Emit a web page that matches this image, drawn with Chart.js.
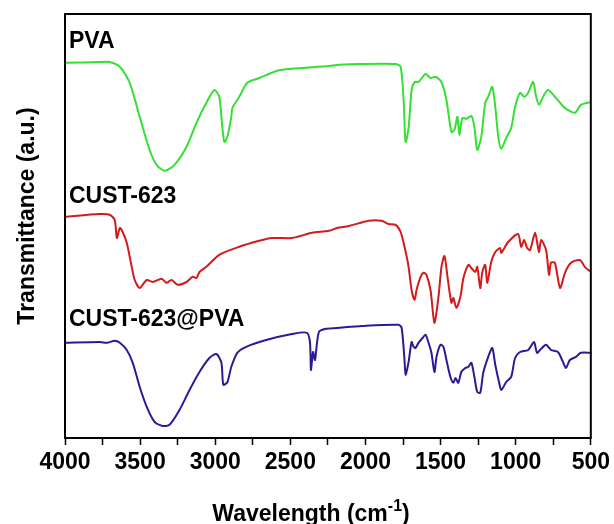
<!DOCTYPE html>
<html>
<head>
<meta charset="utf-8">
<script src="https://cdn.jsdelivr.net/npm/chart.js@4/dist/chart.umd.min.js"></script>
<style>
  html, body { margin: 0; padding: 0; background: #fff; }
  #wrap { width: 614px; height: 524px; }
</style>
</head>
<body>
<div id="wrap"><canvas id="ftir" width="614" height="524"></canvas></div>
<script>
// FTIR spectra, wavenumber (cm-1) vs transmittance (a.u., offset stacked)
const pvaWave = [4000, 3768, 3702, 3635, 3569, 3503, 3437, 3390, 3337, 3271, 3191, 3125, 3059, 3006, 2973, 2953, 2939, 2919, 2893, 2886, 2840, 2787, 2707, 2588, 2489, 2243, 2177, 2025, 1799, 1766, 1746, 1733, 1713, 1693, 1673, 1647, 1600, 1567, 1534, 1494, 1461, 1428, 1408, 1388, 1375, 1355, 1329, 1295, 1275, 1256, 1229, 1203, 1183, 1156, 1136, 1116, 1096, 1063, 1030, 1004, 971, 944, 917, 884, 864, 845, 818, 785, 739, 672, 606, 566, 500];
const pvaT = [93.8, 94, 94, 92.8, 88.8, 80.3, 72, 68.3, 66.8, 68.3, 72.8, 78.8, 83.8, 87, 85.3, 77.8, 74, 75.3, 80.3, 82.5, 85.3, 88.8, 90, 91.8, 92.3, 93, 93.3, 93.5, 93.5, 92.8, 84.5, 74, 77.5, 87, 89, 89, 91, 90, 90.3, 89, 84.5, 76.5, 77, 80.3, 75.8, 80, 79.8, 80.5, 77.8, 72, 75.3, 83.8, 85.3, 87.8, 82.8, 75.3, 72.3, 75, 77.5, 82.8, 86.3, 85.3, 86.3, 89, 85.3, 83.3, 85.3, 87, 85.3, 82.5, 81.3, 83.3, 84];

const custWave = [4000, 3768, 3702, 3669, 3655, 3635, 3616, 3589, 3556, 3536, 3503, 3456, 3417, 3357, 3324, 3291, 3251, 3191, 3151, 3125, 3105, 3059, 2973, 2840, 2707, 2621, 2489, 2356, 2243, 2190, 2111, 1978, 1892, 1846, 1799, 1766, 1740, 1713, 1693, 1673, 1660, 1633, 1614, 1594, 1567, 1541, 1514, 1494, 1474, 1454, 1428, 1415, 1395, 1368, 1348, 1315, 1295, 1269, 1256, 1236, 1222, 1203, 1189, 1163, 1136, 1103, 1096, 1050, 984, 964, 944, 924, 904, 871, 845, 831, 798, 778, 765, 739, 705, 672, 632, 573, 540, 500];
const custT = [55.3, 56, 55.8, 54.5, 50, 52.5, 51.5, 48.8, 42.8, 39.5, 37.5, 39.5, 39, 39.8, 38.8, 39.5, 38.3, 39, 40.3, 40, 41.5, 42.8, 45.8, 47.8, 49.3, 50, 50, 51.3, 51.8, 52.5, 53, 54.3, 54.3, 53.5, 53.3, 51.5, 47.8, 42.8, 37, 34.5, 37, 40.3, 41.3, 40.8, 37, 28.8, 35.3, 42.8, 45.5, 40.3, 33.8, 35, 32.5, 35.3, 40, 43.3, 42.5, 41.5, 42.8, 37.5, 41.5, 43.3, 38.8, 44, 46.5, 47.5, 46.3, 49, 51, 47.8, 49.5, 47.5, 47, 51.3, 46.5, 49.5, 47, 40.8, 43.8, 43.8, 37.5, 41.3, 43.8, 44.5, 42.8, 41.5];

const compWave = [4000, 3768, 3722, 3669, 3635, 3589, 3549, 3503, 3456, 3403, 3350, 3304, 3238, 3171, 3105, 3039, 2992, 2959, 2946, 2919, 2893, 2853, 2794, 2661, 2489, 2389, 2369, 2363, 2349, 2336, 2310, 2263, 2190, 2025, 1779, 1759, 1740, 1733, 1713, 1693, 1680, 1667, 1647, 1620, 1600, 1580, 1561, 1541, 1527, 1501, 1481, 1461, 1435, 1415, 1401, 1382, 1362, 1335, 1315, 1295, 1275, 1256, 1236, 1216, 1183, 1156, 1136, 1110, 1096, 1063, 1030, 1004, 971, 917, 878, 858, 831, 798, 765, 719, 685, 666, 639, 599, 566, 500];
const compT = [23.8, 24, 23.8, 24.3, 23.8, 22, 18.8, 12.8, 7.8, 4, 3, 3.3, 7, 12, 16.5, 20, 21, 18.8, 13.3, 14, 17.8, 21.3, 22.8, 24.5, 26, 26.3, 23.8, 17, 21.5, 19.5, 26.5, 27.3, 27.5, 28, 28.3, 27.5, 19.5, 15.8, 19, 24, 22.8, 22.5, 23.8, 25, 25.8, 23.8, 21.3, 16.5, 20.3, 23.3, 22.8, 19.5, 15.3, 13.8, 15, 13.8, 16.5, 17.5, 17.8, 18.8, 15.3, 11.5, 11.3, 16.3, 20.3, 22.5, 18.3, 13.8, 12, 14, 15.3, 20, 21.5, 22, 24, 21.3, 22.3, 23.3, 22, 21.5, 19, 17.5, 19.5, 20.3, 21.3, 21.3];

const seriesNames = ["PVA", "CUST-623", "CUST-623@PVA"];
const seriesColors = ["#35e035", "#d41a1a", "#2b1a96"];
const xTicks = [4000, 3500, 3000, 2500, 2000, 1500, 1000, 500];

const font = "'Liberation Sans', Arial, sans-serif";

function toPoints(xs, ys) {
  return xs.map((x, i) => ({ x: x, y: ys[i] }));
}

const data = {
  datasets: [
    { label: seriesNames[0], data: toPoints(pvaWave, pvaT), borderColor: seriesColors[0] },
    { label: seriesNames[1], data: toPoints(custWave, custT), borderColor: seriesColors[1] },
    { label: seriesNames[2], data: toPoints(compWave, compT), borderColor: seriesColors[2] },
  ],
};

// frame, series names and axis titles
const decorations = {
  id: "decorations",
  afterDraw(chart) {
    const { ctx, chartArea: a } = chart;
    ctx.save();
    ctx.strokeStyle = "#000";
    ctx.lineWidth = 2;
    ctx.strokeRect(a.left, a.top, a.right - a.left, a.bottom - a.top);

    ctx.fillStyle = "#000";
    ctx.font = "bold 23px " + font;
    ctx.textBaseline = "alphabetic";
    ctx.textAlign = "left";
    const yScale = chart.scales.y;
    // names sit just above each trace's flat start
    const nameY = [pvaT[0] + 3.8, custT[0] + 3.4, compT[0] + 4.2];
    seriesNames.forEach((name, i) => {
      ctx.fillText(name, a.left + 4, yScale.getPixelForValue(nameY[i]));
    });

    // y title
    ctx.save();
    ctx.translate(34, 216);
    ctx.rotate(-Math.PI / 2);
    ctx.textAlign = "center";
    ctx.font = "bold 23px " + font;
    ctx.fillText("Transmittance (a.u.)", 0, 0);
    ctx.restore();

    // x title with superscript
    const main = "Wavelength (cm";
    const sup = "-1";
    ctx.font = "bold 23px " + font;
    const w1 = ctx.measureText(main).width;
    ctx.font = "bold 16px " + font;
    const w2 = ctx.measureText(sup).width;
    ctx.font = "bold 23px " + font;
    const w3 = ctx.measureText(")").width;
    let x0 = 311 - (w1 + w2 + w3) / 2;
    const base = 521;
    ctx.textAlign = "left";
    ctx.fillText(main, x0, base);
    ctx.font = "bold 16px " + font;
    ctx.fillText(sup, x0 + w1, base - 10);
    ctx.font = "bold 23px " + font;
    ctx.fillText(")", x0 + w1 + w2, base);
    ctx.restore();
  },
};

const config = {
  type: "line",
  data,
  options: {
    responsive: false,
    animation: false,
    layout: { padding: { top: 14, right: 21, left: 0, bottom: 0 } },
    elements: {
      line: { borderWidth: 2, tension: 0.25 },
      point: { radius: 0 },
    },
    plugins: {
      legend: { display: false },
      tooltip: { enabled: false },
    },
    scales: {
      x: {
        type: "linear",
        reverse: true,
        min: 500,
        max: 4000,
        afterBuildTicks(scale) {
          const t = [];
          for (let v = 4000; v >= 500; v -= 250) t.push({ value: v });
          scale.ticks = t;
        },
        afterFit(scale) { scale.height = 86; },
        grid: {
          drawOnChartArea: false,
          tickLength: 7,
          tickWidth: 1.5,
          tickColor: "#000",
        },
        border: { display: false },
        ticks: {
          color: "#000",
          padding: 4,
          maxRotation: 0,
          autoSkip: false,
          font: { family: font, size: 23, weight: "bold" },
          callback: (v) => (xTicks.includes(v) ? String(v) : ""),
        },
      },
      y: {
        min: 0,
        max: 106,
        afterFit(scale) { scale.width = 65; },
        grid: { display: false },
        border: { display: false },
        ticks: { display: false },
      },
    },
  },
  plugins: [decorations],
};

const myChart = new Chart(document.getElementById("ftir"), config);
</script>
</body>
</html>
